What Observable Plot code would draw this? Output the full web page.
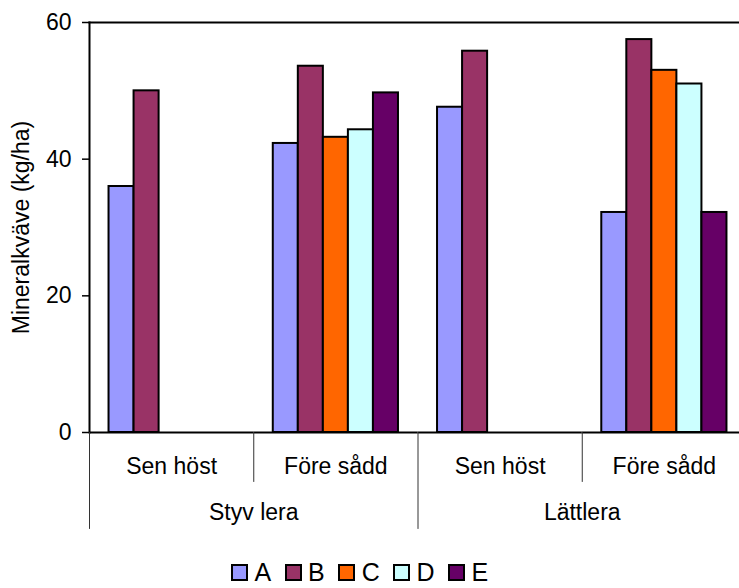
<!DOCTYPE html>
<html>
<head>
<meta charset="utf-8">
<script src="https://cdn.jsdelivr.net/npm/d3@7"></script>
<script src="https://cdn.jsdelivr.net/npm/@observablehq/plot@0.6"></script>
<style>
  html, body { margin: 0; padding: 0; background: white; overflow: hidden; }
  #wrap { position: relative; width: 746px; height: 588px; font-family: "Liberation Sans", Arial, sans-serif; }
  #legend { position: absolute; top: 560px; left: 231px; display: flex; align-items: center; font-size: 25px; line-height: 25px; color: black; white-space: nowrap; }
  .item { display: inline-flex; align-items: center; margin-right: 13.4px; }
  .sw { width: 17px; height: 17px; box-sizing: border-box; border: 2px solid black; margin-right: 6.5px; }
</style>
</head>
<body>
<div id="wrap"><div id="chart"></div><div id="legend"></div></div>
<script>
const series = ["A", "B", "C", "D", "E"];
const colors = ["#9999FF", "#993366", "#FF6600", "#CCFFFF", "#660066"];
const soils = ["Styv lera", "Lättlera"];
const timings = ["Sen höst", "Före sådd"];
const yTicks = [0, 20, 40, 60];
const yLabel = "Mineralkväve (kg/ha)";
// values per series in group order: Styv lera/Sen höst, Styv lera/Före sådd, Lättlera/Sen höst, Lättlera/Före sådd
const valuesA = [36.0, 42.3, 47.6, 32.2];
const valuesB = [50.0, 53.6, 55.8, 57.5];
const valuesC = [null, 43.2, null, 53.0];
const valuesD = [null, 44.3, null, 51.0];
const valuesE = [null, 49.7, null, 32.2];

const groups = [];
for (const s of soils) for (const t of timings) groups.push({key: s + "|" + t, soil: s, timing: t});
const seriesValues = [valuesA, valuesB, valuesC, valuesD, valuesE];
const rows = [];
series.forEach((name, i) => {
  seriesValues[i].forEach((v, j) => {
    if (v != null) rows.push({group: groups[j].key, series: name, value: v});
  });
});

const lineShape = {draw(ctx, l) { ctx.moveTo(0, 0); ctx.lineTo(0, -l); }};

const chart = Plot.plot({
  width: 746,
  height: 545,
  marginLeft: 89,
  marginRight: 0,
  marginTop: 22,
  marginBottom: 113,
  style: {fontFamily: "'Liberation Sans', Arial, sans-serif", fontSize: "23px", color: "black", background: "white", maxWidth: "none", overflow: "visible"},
  fx: {domain: groups.map(g => g.key), padding: 0, round: false, axis: null},
  x: {domain: series, paddingInner: 0, paddingOuter: 0.78, round: false, axis: null},
  y: {domain: [0, 60]},
  color: {domain: series, range: colors},
  marks: [
    Plot.barY(rows, {fx: "group", x: "series", y: "value", fill: "series", stroke: "black", strokeWidth: 2}),
    Plot.ruleY([0], {stroke: "black", strokeWidth: 2}),
    Plot.frame({facet: "super", anchor: "top", stroke: "black", strokeWidth: 2}),
    Plot.frame({facet: "super", anchor: "left", stroke: "black", strokeWidth: 2}),
    Plot.axisY({ticks: yTicks, tickSize: 7, tickPadding: 11, strokeWidth: 1.5, fontSize: 23,
      label: yLabel, labelAnchor: "center", labelOffset: 77, labelArrow: "none"}),
    Plot.vector(groups.filter(g => g.timing === timings[0]), {fx: d => d.key, frameAnchor: "bottom-left",
      length: 96, rotate: 180, anchor: "start", shape: lineShape, stroke: "#333", strokeWidth: 1}),
    Plot.vector(groups.filter(g => g.timing === timings[1]), {fx: d => d.key, frameAnchor: "bottom-left",
      length: 49, rotate: 180, anchor: "start", shape: lineShape, stroke: "#333", strokeWidth: 1}),
    Plot.text(groups, {fx: d => d.key, text: d => d.timing, frameAnchor: "bottom", dy: 34,
      textAnchor: "middle", lineAnchor: "middle", fontSize: 23, fill: "black"}),
    Plot.text(groups.filter(g => g.timing === timings[0]), {fx: d => d.key, text: d => d.soil, frameAnchor: "bottom-right", dy: 80.6,
      textAnchor: "middle", lineAnchor: "middle", fontSize: 23, fill: "black"})
  ]
});
document.getElementById("chart").appendChild(chart);

const legend = document.getElementById("legend");
series.forEach((name, i) => {
  const item = document.createElement("span");
  item.className = "item";
  const sw = document.createElement("span");
  sw.className = "sw";
  sw.style.background = colors[i];
  const label = document.createElement("span");
  label.textContent = name;
  item.appendChild(sw);
  item.appendChild(label);
  legend.appendChild(item);
});
</script>
</body>
</html>
